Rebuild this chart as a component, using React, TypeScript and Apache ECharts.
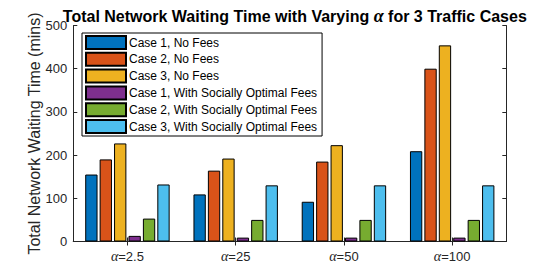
import React, { useEffect, useRef } from "react";
import * as echarts from "echarts";

const categories = ["2.5", "25", "50", "100"];
const seriesNames = [
  "Case 1, No Fees",
  "Case 2, No Fees",
  "Case 3, No Fees",
  "Case 1, With Socially Optimal Fees",
  "Case 2, With Socially Optimal Fees",
  "Case 3, With Socially Optimal Fees",
];
const case1NoFees = [155, 109, 92, 209];
const case2NoFees = [190, 164, 185, 400];
const case3NoFees = [227, 192, 223, 454];
const case1Fees = [13, 9, 9, 9];
const case2Fees = [53, 50, 50, 50];
const case3Fees = [132, 130, 130, 130];
const yTicks = { min: 0, max: 500, interval: 100 };
const yAxisTitle = "Total Network Waiting Time (mins)";

const colors = ["#0072BD", "#D95319", "#EDB120", "#7E2F8E", "#77AC30", "#4DBEEE"];
const AX = "#262626";
const SANS = "Arial, 'Liberation Sans', sans-serif";
const SERIF = "'Times New Roman', 'Liberation Serif', serif";

export default function App() {
  const ref = useRef<HTMLDivElement>(null);
  useEffect(() => {
    if (!ref.current) return;
    const chart = echarts.init(ref.current, null, { renderer: "svg" });
    const values = [case1NoFees, case2NoFees, case3NoFees, case1Fees, case2Fees, case3Fees];
    const axisCommon = {
      type: "category" as const,
      data: categories,
      axisLine: { show: true, lineStyle: { color: AX, width: 1 } },
      axisTick: { show: true, inside: true, alignWithLabel: true, length: 4, lineStyle: { color: AX } },
      splitLine: { show: false },
    };
    const yCommon = {
      type: "value" as const,
      min: yTicks.min,
      max: yTicks.max,
      interval: yTicks.interval,
      axisLine: { show: true, lineStyle: { color: AX, width: 1 } },
      axisTick: { show: true, inside: true, length: 4, lineStyle: { color: AX } },
      splitLine: { show: false },
    };
    chart.setOption({
      animation: false,
      title: {
        text: "{b|Total Network Waiting Time with Varying }{a|α}{b| for 3 Traffic Cases}",
        left: 289.8,
        textAlign: "center",
        top: 2,
        textStyle: {
          rich: {
            b: { fontFamily: SANS, fontWeight: "bold", fontSize: 16, color: "#000" },
            a: { fontFamily: SERIF, fontStyle: "italic", fontSize: 18, color: "#000" },
          },
        },
      },
      graphic: [
        {
          type: "text",
          x: 34,
          y: 133.5,
          rotation: Math.PI / 2,
          style: {
            text: yAxisTitle,
            fontFamily: SANS,
            fontSize: 16,
            fill: AX,
            align: "center",
            verticalAlign: "middle",
          },
        },
      ],
      legend: {
        orient: "vertical",
        left: 82,
        top: 33,
        padding: [2, 5, 2, 3],
        itemWidth: 40,
        itemHeight: 13,
        itemGap: 1.8,
        backgroundColor: "#fff",
        borderColor: "#000",
        borderWidth: 1,
        borderRadius: 0,
        icon: "rect",
        textStyle: { fontFamily: SANS, fontSize: 12, lineHeight: 13, color: "#000", padding: [0, 0, 0, -2] },
        data: seriesNames,
      },
      grid: { left: 73.3, right: 53.7, top: 25.5, bottom: 30.5 },
      xAxis: [
        {
          ...axisCommon,
          position: "bottom",
          axisLabel: {
            margin: 8,
            formatter: (v: string) => `{a|α}{b|=${v}}`,
            rich: {
              a: { fontFamily: SERIF, fontStyle: "italic", fontSize: 14, color: AX },
              b: { fontFamily: SANS, fontSize: 13, color: AX },
            },
          },
        },
        { ...axisCommon, position: "top", axisLabel: { show: false } },
      ],
      yAxis: [
        {
          ...yCommon,
          position: "left",
          axisLabel: { margin: 6, fontFamily: SANS, fontSize: 13, color: AX },
        },
        { ...yCommon, position: "right", axisLabel: { show: false } },
      ],
      series: values.map((d, i) => ({
        type: "bar",
        name: seriesNames[i],
        data: d,
        xAxisIndex: 0,
        yAxisIndex: 0,
        barCategoryGap: "22%",
        barGap: "17%",
        itemStyle: { color: colors[i], borderColor: "#000", borderWidth: 1 },
        emphasis: { disabled: true },
      })),
    });
    return () => chart.dispose();
  }, []);
  return (
    <div
      ref={ref}
      style={{ position: "fixed", left: 0, top: 0, width: 560, height: 272, background: "#fff" }}
    />
  );
}
